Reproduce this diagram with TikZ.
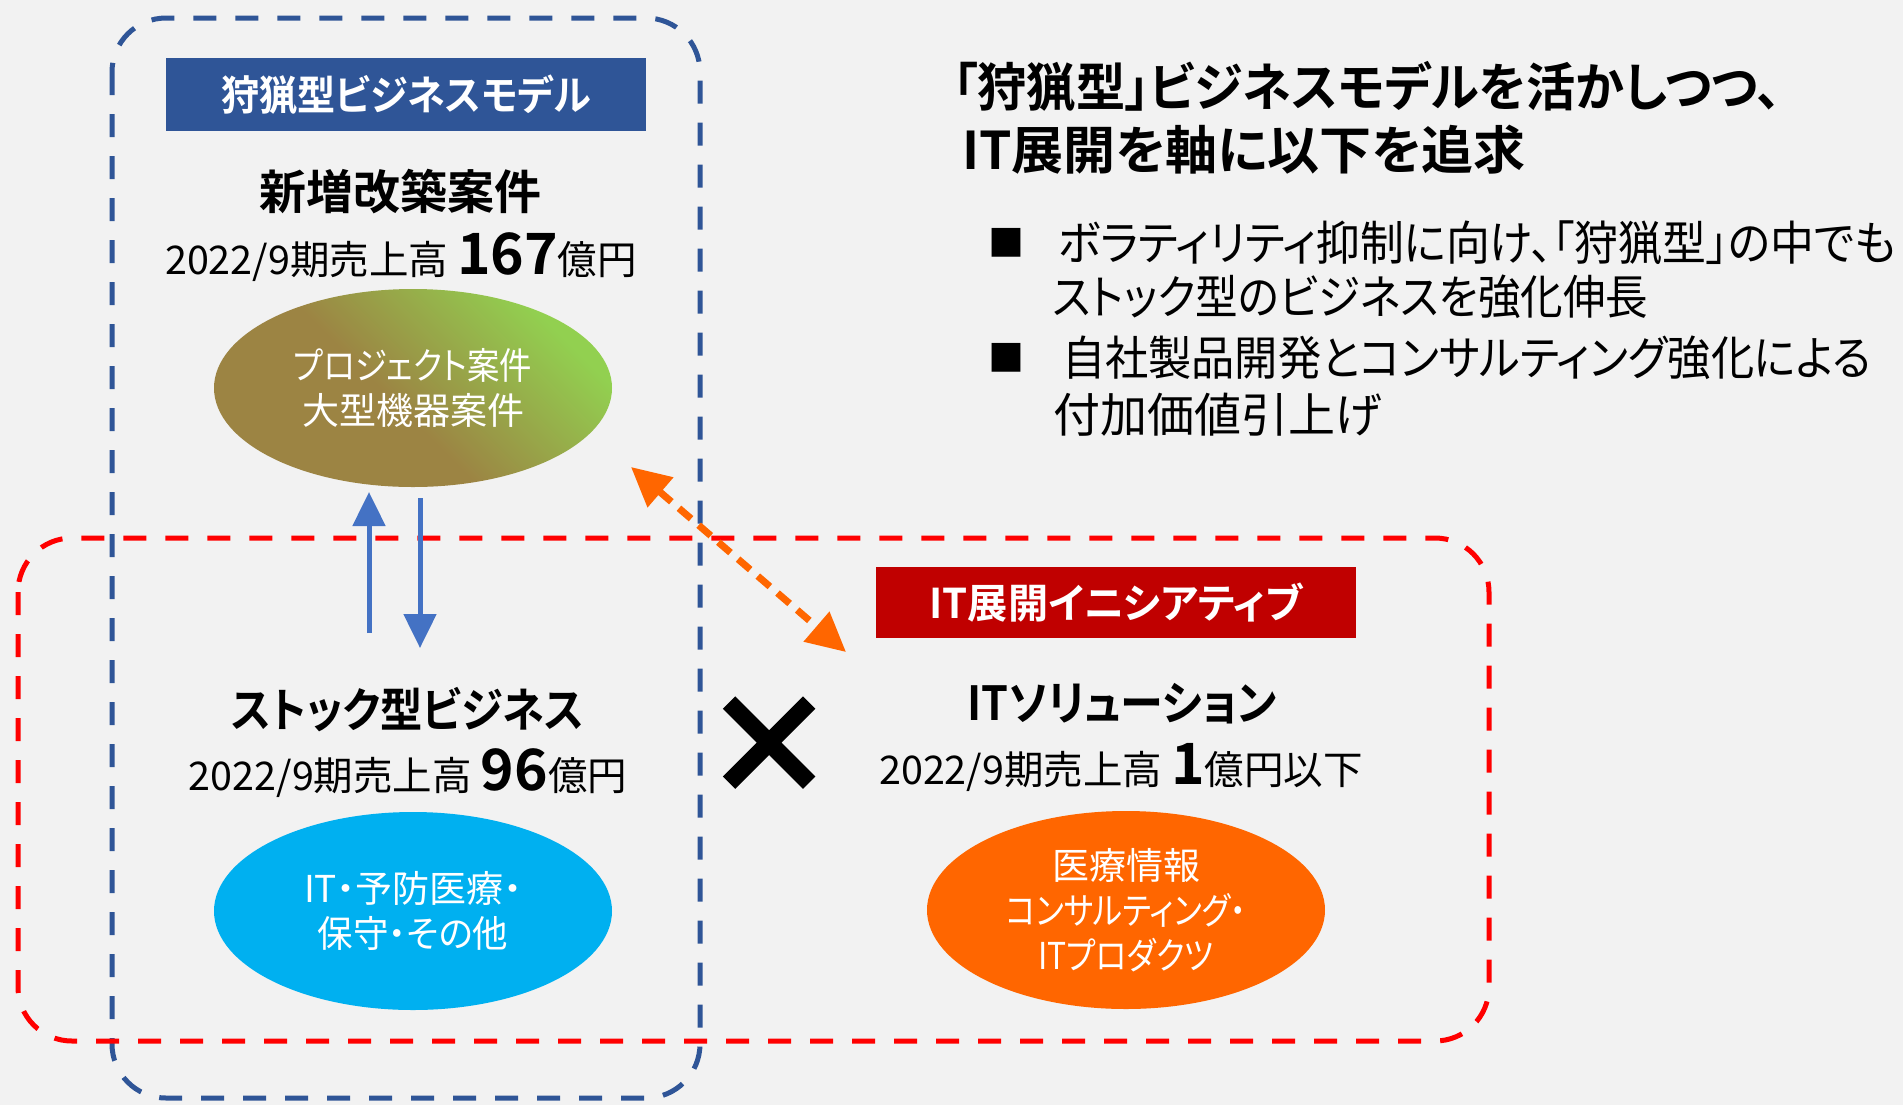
\documentclass[tikz,border=0pt]{standalone}
\usepackage{fontspec}
\setmainfont{Noto Sans CJK JP}[RawFeature=+palt, BoldFont={Noto Sans CJK JP Bold}]
\newfontfamily\crossfont[FakeBold=3]{Noto Sans CJK JP Bold}
\usetikzlibrary{arrows.meta,shapes.geometric}
\definecolor{bg}{HTML}{F2F2F2}
\definecolor{hdrblue}{HTML}{2F5597}
\definecolor{hdrred}{HTML}{C00000}
\definecolor{boxred}{HTML}{FF0000}
\definecolor{arrblue}{HTML}{4472C4}
\definecolor{orng}{HTML}{FF6600}
\definecolor{cyanb}{HTML}{00B0F0}
\definecolor{brn}{HTML}{9C8443}
\definecolor{grn}{HTML}{92D050}
\pgfdeclareverticalshading{olivegreen}{100bp}{color(0bp)=(brn); color(46bp)=(brn); color(74bp)=(grn); color(100bp)=(grn)}
\newcommand{\fsz}[2]{\fontsize{#1}{#2}\selectfont}
\newcommand{\hs}[2]{\scalebox{#1}[1]{#2}}
\begin{document}
\begin{tikzpicture}[x=0.5pt,y=-0.5pt,
  every node/.style={inner sep=0pt, outer sep=0pt},
  groupbox/.style={line width=2.5pt, dash pattern=on 11.5pt off 9.5pt, rounded corners=27pt},
  hdr/.style={minimum width=240pt, text=white, font=\bfseries\fsz{20.5}{24}},
  ttl/.style={font=\bfseries\fsz{23.5}{28}},
  sales/.style={anchor=base, font=\fsz{19.75}{22}},
  blob/.style={ellipse, minimum width=199pt, minimum height=99pt, text=white, align=center, font=\fsz{18.5}{22.5}},
  headline/.style={anchor=west, font=\bfseries\fsz{26}{30}},
  bodyline/.style={anchor=west, font=\fsz{23.5}{28}},
  bulletmark/.style={font=\fsz{18}{20}},
  barrow/.style={draw=arrblue, line width=2.5pt, -{Triangle[length=17pt,width=16pt]}},
  oarrow/.style={draw=orng, line width=3.5pt, dash pattern=on 8pt off 5pt, {Triangle[length=19.5pt,width=19pt]}-{Triangle[length=19.5pt,width=19pt]}}
]
\path[fill=bg, use as bounding box] (0,0) rectangle (1903,1105);

% group boxes
\draw[groupbox, draw=hdrblue] (112,18) rectangle (700,1098);
\draw[groupbox, draw=boxred] (18,538) rectangle (1489,1041);

% headers
\node[hdr, fill=hdrblue, minimum height=36.5pt] (hunthdr) at (406,94.5) {\hs{0.93}{狩猟型ビジネスモデル}};
\node[hdr, fill=hdrred, minimum height=35.5pt] (ithdr) at (1116,602.5) {\hs{0.98}{IT展開イニシアティブ}};

% titles
\node[ttl] (newtitle) at (400,192) {新増改築案件};
\node[ttl] (stocktitle) at (408,710) {\hs{0.9}{ストック型ビジネス}};
\node[ttl] (ittitle) at (1122,704) {\hs{0.916}{ITソリューション}};

% sales lines
\node[sales] (newsales) at (401,274) {2022/9期売上高 {\bfseries\fsz{28.5}{30}167}億円};
\node[sales] (stocksales) at (408,790) {2022/9期売上高 {\bfseries\fsz{28.5}{30}96}億円};
\node[sales] (itsales) at (1121,784) {2022/9期売上高 {\bfseries\fsz{28.5}{30}1}億円以下};

% ellipses
\node[blob, shading=olivegreen, shading angle=-45] (proj) at (413,388) {\hs{0.875}{プロジェクト案件}\\大型機器案件};
\node[blob, fill=cyanb] (stockblob) at (413,911) {IT・予防医療・\\\hs{0.96}{保守・その他}};
\node[blob, fill=orng] (itblob) at (1126,910) {医療情報\\\hs{0.85}{コンサルティング・}\\\hs{0.86}{ITプロダクツ}};

% cross
\node[font=\crossfont\fsz{66}{68}] (cross) at (769,746) {×};

% arrows
\coordinate (upfrom) at (369,633);
\coordinate (upto) at (369,492);
\coordinate (downfrom) at (420,498);
\coordinate (downto) at (420,648);
\draw[barrow] (upfrom) -- (upto);
\draw[barrow] (downfrom) -- (downto);
\coordinate (oa) at (631,467);
\coordinate (ob) at (846,652);
\draw[oarrow] (oa) -- (ob);

% right text
\node[headline] (h1) at (953,87) {\hs{0.947}{「狩猟型」ビジネスモデルを活かしつつ、}};
\node[headline] (h2) at (962,150) {IT展開を軸に以下を追求};
\node[bulletmark] (b1) at (1006,243) {■};
\node[bodyline] (l1) at (1058,243) {\hs{0.933}{ボラティリティ抑制に向け、「狩猟型」の中でも}};
\node[bodyline] (l2) at (1053,297) {\hs{0.905}{ストック型のビジネスを強化伸長}};
\node[bulletmark] (b2) at (1006,358) {■};
\node[bodyline] (l3) at (1062,358) {\hs{0.92}{自社製品開発とコンサルティング強化による}};
\node[bodyline] (l4) at (1053,415) {付加価値引上げ};
\end{tikzpicture}
\end{document}
